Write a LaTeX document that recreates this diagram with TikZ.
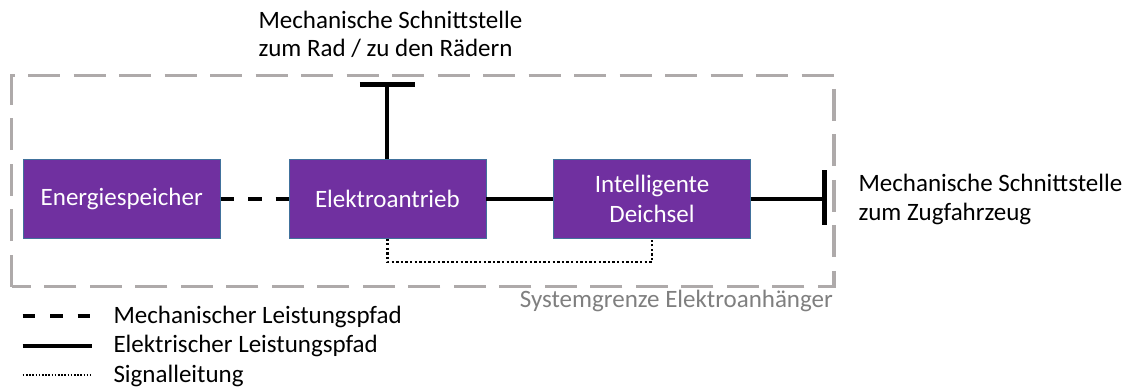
\documentclass[tikz,border=0pt]{standalone}
\usepackage{fontspec}
\setmainfont{Carlito}
\usetikzlibrary{calc}
\definecolor{boxpurple}{HTML}{7030A0}
\definecolor{boxedge}{HTML}{41719C}
\definecolor{limitgray}{HTML}{AEAAAA}
\definecolor{labelgray}{HTML}{7F7F7F}
\newcommand\txtsize{\fontsize{25}{28.5}\selectfont}

\begin{document}
\begin{tikzpicture}[x=1pt,y=-1pt,
  block/.style={fill=boxpurple, draw=boxedge, line width=0.6pt,
    minimum width=197pt, minimum height=79pt, inner sep=0pt,
    text=white, align=center, font=\txtsize},
  caption/.style={inner sep=0pt, align=left, font=\txtsize, anchor=base west},
  mechpath/.style={line width=4pt, dash pattern=on 13.5pt off 14pt},
  elecpath/.style={line width=4pt},
  signalpath/.style={line width=2.6pt, dash pattern=on 2.3pt off 2.3pt},
  limit/.style={draw=limitgray, line width=3.5pt, dash pattern=on 32pt off 13.5pt},
]
\useasboundingbox (0,0) rectangle (1126,387);

% system boundary of the trailer
\draw[limit] (11.7,286.7) -- (11.7,75.7) -- (834,75.7) -- (834,286.7) -- cycle;
\node[inner sep=0pt, anchor=base east, text=labelgray, font=\txtsize]
  (limitlabel) at (833,307.3) {Systemgrenze Elektroanhänger};

% components
\node[block] (energy) at (121.7,198.8) {Energiespeicher};
\node[block] (drive)  at (387.4,198.8) {Elektroantrieb};
\node[block] (drawbar) at (652,198.8) {Intelligente\\[1.5pt]Deichsel};

% power and signal paths
\draw[mechpath] (energy.east) -- (drive.west);
\draw[elecpath] (drive.east) -- (drawbar.west);
\draw[signalpath] (drive.south) -- ++(0,23.4) -| (drawbar.south);

% interface to the wheels
\coordinate (wheelif) at (drive.north |- 0,84.3);
\draw[elecpath] (drive.north) -- (wheelif);
\draw[line width=4.5pt] ($(wheelif)+(-27.5,0)$) -- ($(wheelif)+(27.5,0)$);
\node[caption] (wheeltext) at (258.3,56.7)
  {Mechanische Schnittstelle\\zum Rad / zu den Rädern};

% interface to the towing vehicle
\coordinate (hitchif) at (drawbar.east -| 824.3,0);
\draw[line width=3.5pt] (drawbar.east) -- (hitchif);
\draw[line width=4.5pt] ($(hitchif)+(0,-28.5)$) -- ($(hitchif)+(0,25.8)$);
\node[caption] (hitchtext) at (858.3,220.2)
  {Mechanische Schnittstelle\\zum Zugfahrzeug};

% legend
\coordinate (lgmechA) at (22.7,315.7);
\coordinate (lgmechB) at (90,315.7);
\coordinate (lgelecA) at (22.7,345.5);
\coordinate (lgelecB) at (91.7,345.5);
\coordinate (lgsigA) at (22.7,375);
\coordinate (lgsigB) at (90.7,375);
\draw[line width=4pt, dash pattern=on 12.5pt off 15pt] (lgmechA) -- (lgmechB);
\draw[elecpath] (lgelecA) -- (lgelecB);
\draw[line width=1.6pt, dash pattern=on 1.6pt off 1.6pt] (lgsigA) -- (lgsigB);
\node[caption] (lgmechtext) at (113.3,323) {Mechanischer Leistungspfad};
\node[caption] (lgelectext) at (113.3,352.5) {Elektrischer Leistungspfad};
\node[caption] (lgsigtext) at (113.3,382) {Signalleitung};
\end{tikzpicture}
\end{document}
